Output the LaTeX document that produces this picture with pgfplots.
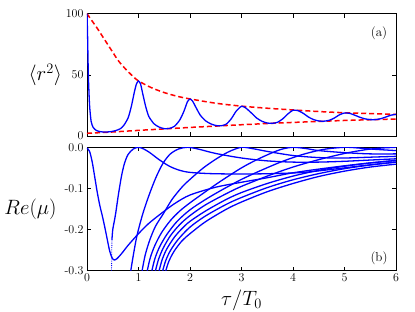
\documentclass[border=0pt]{standalone}
\usepackage{pgfplots}
\pgfplotsset{compat=1.18}
\begin{document}
\begin{tikzpicture}
\path[use as bounding box] (-87pt,-41.3pt) rectangle (328pt,270.7pt);
\pgfplotsset{
  every axis/.append style={
    scale only axis, width=309pt,
    xmin=0, xmax=6,
    tick align=inside, major tick length=4pt,
    tick style={black, line width=0.5pt},
    axis line style={line width=0.7pt},
    tick label style={font=\fontsize{12}{14}\selectfont},
    xtick={0,1,2,3,4,5,6},
    clip=true,
  },
  bl/.style={blue, line width=1.3pt, smooth, no markers},
}
% ---------------- top panel ----------------
\begin{axis}[at={(0pt,134.7pt)}, anchor=south west, height=122.3pt,
  ymin=0, ymax=100, ytick={0,50,100}, xticklabels={},
  ylabel={$\langle r^2\rangle$},
  y label style={rotate=-90, at={(axis description cs:-0.135,0.5)}, anchor=center, font=\fontsize{20}{24}\selectfont},
]
\addplot[red, line width=1.5pt, dash pattern=on 5pt off 3pt, smooth, no markers] coordinates {
(0,100)(0.1,94)(0.2,88)(0.3,81.5)(0.4,75)(0.5,68.5)(0.6,62)(0.7,57)(0.8,52.5)(0.9,48.5)(1,45)
(1.25,39.5)(1.5,35.5)(1.75,32.5)(2,30.3)(2.5,26.8)(3,24.4)(3.5,22.7)(4,21.3)(4.5,20)(5,19)(5.5,18.3)(6,17.7)};
\addplot[red, line width=1.5pt, dash pattern=on 5pt off 3pt, smooth, no markers] coordinates {
(0,2.2)(0.5,3.3)(1,4.6)(1.5,5.8)(2,7)(2.5,8.1)(3,9.2)(3.5,10.2)(4,11.1)(4.5,11.9)(5,12.7)(5.5,13.3)(6,13.9)};
\addplot[blue, line width=1.3pt, smooth, tension=0.4, no markers] coordinates {
(0,100)(0.01,85)(0.02,62)(0.03,45)(0.05,25)(0.08,12)(0.12,7)(0.18,4.6)(0.25,3.6)(0.35,3.2)(0.45,3.5)
(0.55,4.3)(0.65,6)(0.72,9)(0.8,15)(0.86,24)(0.92,36)(0.96,42.5)(1.0,45)(1.04,42.5)(1.08,35)(1.14,24)
(1.2,16)(1.3,10)(1.4,7.3)(1.5,6.0)(1.6,6.2)(1.7,8)(1.8,13)(1.88,20)(1.95,28)(2.0,30.2)(2.05,28.5)
(2.12,23)(2.2,17)(2.3,12.5)(2.4,10)(2.5,8.6)(2.6,8.3)(2.7,9.6)(2.8,14)(2.9,20.5)(3.0,24.3)(3.08,23)
(3.2,18.5)(3.3,14.5)(3.4,12)(3.5,10.6)(3.6,10.4)(3.7,11.2)(3.8,14)(3.9,18)(4.0,21.1)(4.1,20.7)
(4.2,18.5)(4.3,15.5)(4.4,13.4)(4.5,12.3)(4.6,12.1)(4.7,12.8)(4.8,14.6)(4.9,17.3)(5.0,18.8)(5.1,18.5)
(5.2,17)(5.3,15.3)(5.4,14)(5.5,13.4)(5.6,13.4)(5.7,14.1)(5.8,15.5)(5.9,17)(6.0,17.7)};
\node[font=\fontsize{13}{15}\selectfont] at (rel axis cs:0.945,0.842) {(a)};
\end{axis}
% ---------------- bottom panel ----------------
\begin{axis}[at={(0pt,0pt)}, anchor=south west, height=123.4pt,
  ymin=-0.3, ymax=0, ytick={-0.3,-0.2,-0.1,0}, yticklabels={-0.3,-0.2,-0.1,0.0},
  xlabel={$\tau/T_0$},
  x label style={font=\fontsize{20}{24}\selectfont, at={(axis description cs:0.5,0)}, anchor=north, yshift=-16pt},
  ylabel={$Re(\mu)$},
  y label style={rotate=-90, at={(axis description cs:-0.183,0.5)}, anchor=center, font=\fontsize{20}{24}\selectfont},
]
% A
\addplot[bl] coordinates {(0,-0.002)(0.05,-0.01)(0.1,-0.035)(0.15,-0.072)(0.2,-0.11)(0.25,-0.142)(0.3,-0.168)(0.35,-0.197)(0.4,-0.228)(0.44,-0.252)(0.48,-0.267)(0.51,-0.273)(0.54,-0.274)(0.58,-0.271)(0.64,-0.263)(0.7,-0.254)(0.8,-0.238)(1.0,-0.21)(1.2,-0.185)(1.45,-0.16)(1.7,-0.137)(2.0,-0.116)(2.5,-0.097)(3.0,-0.085)(3.5,-0.074)(4.0,-0.062)(4.5,-0.053)(5.0,-0.045)(5.5,-0.038)(6.0,-0.032)};
% C1 dotted entry
\addplot[blue, densely dotted, line width=0.8pt, no markers] coordinates {(0.476,-0.31)(0.484,-0.225)};
% C1
\addplot[bl] coordinates {(0.484,-0.225)(0.50,-0.20)(0.53,-0.18)(0.56,-0.158)(0.61,-0.115)(0.67,-0.07)(0.73,-0.038)(0.8,-0.017)(0.9,-0.004)(1.0,0)(1.1,-0.004)(1.22,-0.013)(1.4,-0.03)(1.6,-0.046)(1.8,-0.056)(2.0,-0.061)(2.4,-0.064)(3.0,-0.065)(3.6,-0.064)(4.2,-0.061)(4.8,-0.053)(5.4,-0.044)(6.0,-0.036)};
% C2
\addplot[bl] coordinates {(0.85,-0.30)(0.9,-0.262)(0.97,-0.215)(1.08,-0.163)(1.2,-0.118)(1.34,-0.073)(1.48,-0.038)(1.62,-0.016)(1.78,-0.004)(1.95,0)(2.15,-0.004)(2.5,-0.015)(3.0,-0.026)(3.5,-0.033)(4.0,-0.036)(4.5,-0.036)(5.0,-0.034)(5.5,-0.031)(6.0,-0.028)};
% C3
\addplot[bl] coordinates {(1.07,-0.30)(1.13,-0.262)(1.22,-0.225)(1.33,-0.192)(1.48,-0.162)(1.65,-0.127)(1.85,-0.096)(2.0,-0.078)(2.25,-0.051)(2.5,-0.029)(2.75,-0.011)(3.0,0)(3.25,-0.004)(3.5,-0.01)(4.0,-0.02)(4.5,-0.025)(5.0,-0.026)(5.5,-0.024)(6.0,-0.022)};
% C4
\addplot[bl] coordinates {(1.17,-0.30)(1.23,-0.268)(1.32,-0.238)(1.45,-0.207)(1.62,-0.178)(1.8,-0.155)(2.0,-0.135)(2.3,-0.108)(2.6,-0.082)(3.0,-0.05)(3.3,-0.03)(3.6,-0.013)(3.8,-0.004)(4.0,0)(4.25,-0.003)(4.5,-0.008)(5.0,-0.013)(5.5,-0.016)(6.0,-0.016)};
% C5
\addplot[bl] coordinates {(1.26,-0.30)(1.32,-0.27)(1.41,-0.242)(1.55,-0.212)(1.75,-0.18)(2.0,-0.152)(2.3,-0.127)(2.6,-0.105)(3.0,-0.078)(3.4,-0.055)(3.8,-0.034)(4.2,-0.017)(4.6,-0.005)(5.0,0)(5.3,-0.002)(5.6,-0.005)(6.0,-0.008)};
% C6
\addplot[bl] coordinates {(1.33,-0.30)(1.39,-0.272)(1.48,-0.245)(1.62,-0.215)(1.8,-0.188)(2.0,-0.166)(2.3,-0.14)(2.7,-0.113)(3.0,-0.095)(3.5,-0.07)(4.0,-0.048)(4.5,-0.03)(5.0,-0.015)(5.4,-0.006)(5.7,-0.002)(6.0,0)};
% D1
\addplot[bl] coordinates {(1.40,-0.30)(1.46,-0.273)(1.55,-0.247)(1.7,-0.218)(1.85,-0.197)(2.0,-0.18)(2.3,-0.155)(2.7,-0.127)(3.0,-0.11)(3.5,-0.088)(4.0,-0.07)(4.5,-0.056)(5.0,-0.046)(5.5,-0.038)(6.0,-0.032)};
% D2
\addplot[bl] coordinates {(1.47,-0.30)(1.53,-0.275)(1.62,-0.251)(1.77,-0.224)(2.0,-0.194)(2.3,-0.167)(2.7,-0.139)(3.0,-0.122)(3.5,-0.098)(4.0,-0.079)(4.5,-0.064)(5.0,-0.052)(5.5,-0.043)(6.0,-0.036)};
% D3
\addplot[bl] coordinates {(1.53,-0.30)(1.59,-0.277)(1.69,-0.253)(1.84,-0.228)(2.0,-0.21)(2.3,-0.181)(2.7,-0.151)(3.0,-0.133)(3.5,-0.108)(4.0,-0.088)(4.5,-0.071)(5.0,-0.058)(5.5,-0.048)(6.0,-0.041)};
\node[font=\fontsize{13}{15}\selectfont] at (rel axis cs:0.945,0.103) {(b)};
\end{axis}
\end{tikzpicture}
\end{document}
